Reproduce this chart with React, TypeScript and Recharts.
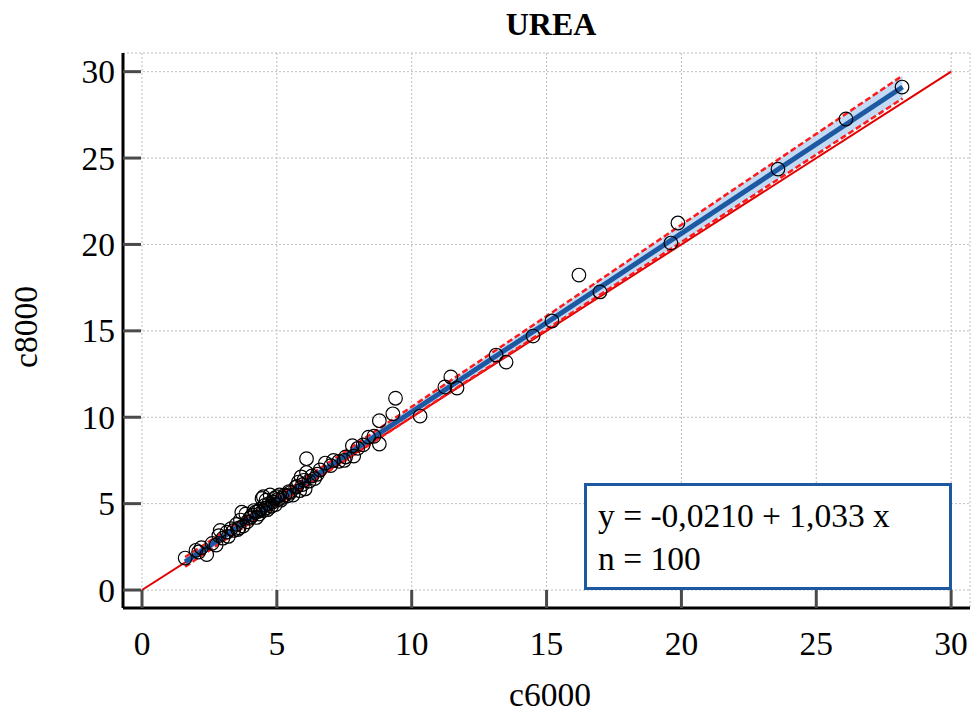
import React from "react";
import {
  ComposedChart,
  XAxis,
  YAxis,
  CartesianGrid,
  Scatter,
  Line,
  Area,
} from "recharts";

// ---- data ----
const pointX = [
  1.6, 2.0, 2.1, 2.2, 2.4, 2.6, 2.75, 2.85, 2.9, 3.0,
  3.15, 3.2, 3.3, 3.4, 3.5, 3.55, 3.6, 3.65, 3.7, 3.75,
  3.85, 3.9, 4.0, 4.05, 4.1, 4.15, 4.2, 4.25, 4.3, 4.35,
  4.4, 4.45, 4.5, 4.5, 4.55, 4.6, 4.6, 4.65, 4.7, 4.75,
  4.8, 4.85, 4.9, 4.95, 5.0, 5.05, 5.1, 5.15, 5.2, 5.3,
  5.4, 5.45, 5.5, 5.6, 5.7, 5.75, 5.8, 5.85, 5.9, 5.95,
  6.0, 6.05, 6.1, 6.1, 6.2, 6.3, 6.4, 6.5, 6.6, 6.8,
  7.0, 7.1, 7.3, 7.5, 7.55, 7.8, 7.85, 8.0, 8.2, 8.4,
  8.6, 8.8, 8.8, 9.3, 9.4, 10.31, 11.23, 11.45, 11.68, 13.13,
  13.5, 14.5, 15.2, 16.2, 16.98, 19.61, 19.87, 23.58, 26.1, 28.18,
];
const pointY = [
  1.85, 2.3, 2.2, 2.45, 2.05, 2.7, 2.6, 3.15, 3.45, 3.0,
  3.35, 3.1, 3.55, 3.45, 3.8, 3.5, 3.6, 4.05, 4.5, 3.7,
  4.4, 3.95, 4.15, 4.25, 4.35, 4.6, 4.5, 4.2, 4.55, 4.4,
  4.7, 5.3, 4.6, 5.4, 4.9, 5.2, 4.75, 4.65, 5.0, 5.5,
  4.85, 5.1, 5.3, 4.95, 5.4, 5.25, 5.5, 5.2, 5.35, 5.5,
  5.45, 5.7, 5.65, 5.5, 5.95, 6.0, 6.25, 5.75, 6.55, 6.1,
  6.35, 5.85, 6.8, 7.6, 6.3, 6.6, 6.45, 6.7, 6.95, 7.35,
  7.2, 7.5, 7.45, 7.5, 7.7, 8.35, 7.75, 8.2, 8.4, 8.85,
  8.9, 8.45, 9.8, 10.2, 11.1, 10.07, 11.75, 12.33, 11.69, 13.6,
  13.19, 14.7, 15.57, 18.23, 17.25, 20.08, 21.24, 24.36, 27.26, 29.11,
];

const fitX = [1.6, 28.2];
const fitY = [1.63, 29.11];

const bandX = [1.6, 5, 10, 15, 20, 25, 28.2];
const bandLo = [1.35, 4.92, 10.01, 15.09, 20.14, 25.2, 28.45];
const bandHi = [1.91, 5.36, 10.61, 15.85, 21.14, 26.4, 29.77];

const identityX = [0, 30];
const identityY = [0, 30];

const axisTicks = [0, 5, 10, 15, 20, 25, 30];

// ---- tables built from the arrays ----
const points = pointX.map((x, i) => ({ x, y: pointY[i] }));
const fitData = fitX.map((x, i) => ({ x, y: fitY[i] }));
const bandData = bandX.map((x, i) => ({
  x,
  lo: bandLo[i],
  hi: bandHi[i],
  band: [bandLo[i], bandHi[i]],
}));
const identityData = identityX.map((x, i) => ({ x, y: identityY[i] }));

const FONT = "'Liberation Serif', 'Times New Roman', serif";
const TICK_COLOR = "#4a4a4a";
const FS = 33.5;

function XTick(props: any) {
  const { x, y, payload } = props;
  return (
    <g>
      <line x1={x} x2={x} y1={y} y2={y - 18} stroke={TICK_COLOR} strokeWidth={3} />
      <text x={x} y={y + 47} textAnchor="middle" fontFamily={FONT} fontSize={FS} fill="#000">
        {payload.value}
      </text>
    </g>
  );
}

function YTick(props: any) {
  const { x, y, payload } = props;
  return (
    <g>
      <line x1={x} x2={x + 18} y1={y} y2={y} stroke={TICK_COLOR} strokeWidth={3} />
      <text x={x - 8} y={y + 11.5} textAnchor="end" fontFamily={FONT} fontSize={FS} fill="#000">
        {payload.value}
      </text>
    </g>
  );
}

function Dot(props: any) {
  const { cx, cy } = props;
  return <circle cx={cx} cy={cy} r={6.8} fill="none" stroke="#000" strokeWidth={1.2} />;
}

export default function App() {
  return (
    <div style={{ position: "absolute", left: 0, top: 0, width: 972, height: 713, background: "#fff" }}>
      <ComposedChart
        width={972}
        height={713}
        margin={{ top: 53, right: 2, bottom: 45, left: 0 }}
      >
        <CartesianGrid stroke="#bdbdbd" strokeDasharray="2 2" strokeWidth={1} />
        <XAxis
          type="number"
          dataKey="x"
          domain={[-0.7045, 30.7]}
          ticks={axisTicks}
          height={60}
          tickSize={0}
          tickMargin={0}
          tickLine={false}
          tick={<XTick />}
          axisLine={{ stroke: "#000", strokeWidth: 3 }}
          interval={0}
        />
        <YAxis
          type="number"
          dataKey="y"
          domain={[-1.04, 31.08]}
          ticks={axisTicks}
          width={123}
          tickSize={0}
          tickMargin={0}
          tickLine={false}
          tick={<YTick />}
          axisLine={{ stroke: "#000", strokeWidth: 3 }}
          interval={0}
        />
        <Scatter data={points} dataKey="y" shape={<Dot />} isAnimationActive={false} />
        <Area
          data={bandData}
          dataKey="band"
          type="linear"
          fill="#c2daf4"
          fillOpacity={1}
          stroke="none"
          isAnimationActive={false}
        />
        <Line
          data={identityData}
          dataKey="y"
          type="linear"
          stroke="#e00000"
          strokeWidth={2}
          dot={false}
          isAnimationActive={false}
        />
        <Line
          data={bandData}
          dataKey="hi"
          type="linear"
          stroke="#ff1a1a"
          strokeWidth={2.5}
          strokeDasharray="6 3"
          dot={false}
          isAnimationActive={false}
        />
        <Line
          data={bandData}
          dataKey="lo"
          type="linear"
          stroke="#ff1a1a"
          strokeWidth={2.5}
          strokeDasharray="6 3"
          dot={false}
          isAnimationActive={false}
        />
        <Line
          data={fitData}
          dataKey="y"
          type="linear"
          stroke="#1d58a2"
          strokeWidth={5}
          dot={false}
          isAnimationActive={false}
        />
      </ComposedChart>
      <svg
        width={972}
        height={713}
        style={{ position: "absolute", left: 0, top: 0, pointerEvents: "none" }}
      >
        <text x={551} y={35} textAnchor="middle" fontFamily={FONT} fontSize={32} fontWeight="bold" fill="#000">
          UREA
        </text>
        <text x={550} y={706} textAnchor="middle" fontFamily={FONT} fontSize={FS} fill="#000">
          c6000
        </text>
        <text
          x={0}
          y={0}
          transform="translate(37,327) rotate(-90)"
          textAnchor="middle"
          fontFamily={FONT}
          fontSize={FS}
          fill="#000"
        >
          c8000
        </text>
        <rect x={585.5} y={484.5} width={365} height={104} fill="#fff" stroke="#1d58a2" strokeWidth={3} />
        <text x={598} y={527} fontFamily={FONT} fontSize={FS} fill="#000">
          y = -0,0210 + 1,033 x
        </text>
        <text x={598} y={570} fontFamily={FONT} fontSize={FS} fill="#000">
          n = 100
        </text>
      </svg>
    </div>
  );
}
